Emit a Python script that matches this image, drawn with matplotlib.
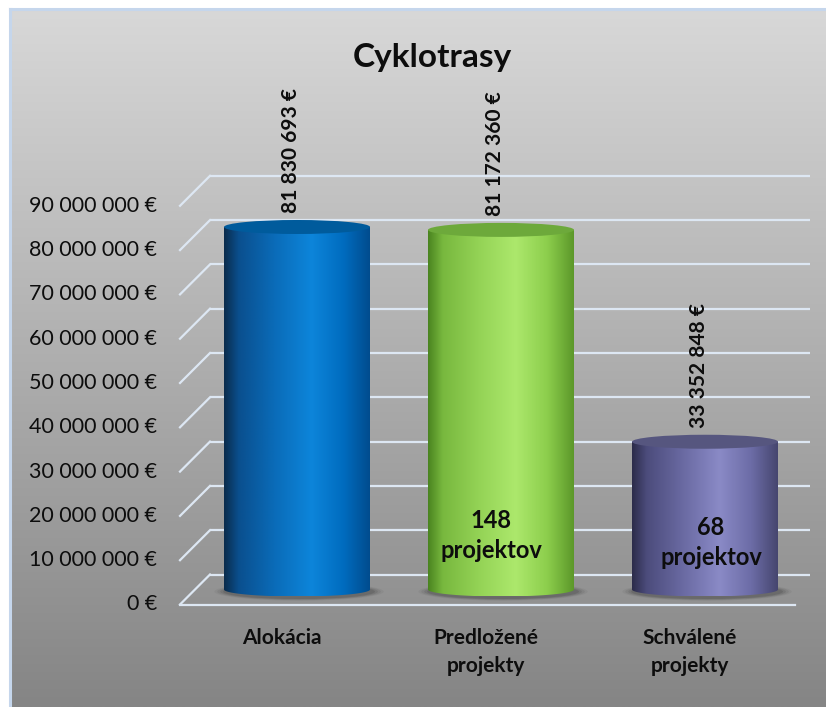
"""Cyklotrasy - 3D cylinder bar chart (static PNG)."""

import matplotlib

matplotlib.use("Agg")

import matplotlib.pyplot as plt
import numpy as np
from matplotlib.colors import to_rgb
from matplotlib.patches import Ellipse, Polygon

plt.rcParams["font.family"] = ["Lato", "DejaVu Sans"]

# --- data ---
categories = ["Alokácia", "Predložené\nprojekty", "Schválené\nprojekty"]
values = [81830693, 81172360, 33352848]
project_counts = [None, 148, 68]
y_ticks = list(range(0, 90000001, 10000000))

# --- style ---
body_stops = [
    [(0.0, "#0b2c4c"), (0.1, "#0a4f8e"), (0.35, "#0a6cb9"), (0.6, "#0d85da"),
     (0.82, "#006cbf"), (1.0, "#004c8e")],
    [(0.0, "#4a8420"), (0.1, "#78b83e"), (0.35, "#94d356"), (0.6, "#ace86c"),
     (0.82, "#8cce4c"), (1.0, "#5c982a")],
    [(0.0, "#2c2c4a"), (0.1, "#4c4c7c"), (0.35, "#6a6aa2"), (0.6, "#8a8ac6"),
     (0.82, "#6c6ca6"), (1.0, "#46466f")],
]
cap_colors = ["#005b9c", "#6da93b", "#56567f"]
# offsets (px) of the "n projektov" labels from the bar centre
count_offsets = [(0, 0), (-10, 0), (6, -7)]
grid_color = "#dde7f3"
text_color = "#0d0d0d"

W, H = 826, 707
PX_PER_CAT = 204.0          # horizontal pixels per category
PX_PER_VAL = 44.3 / 1e7     # vertical pixels per euro
X0_PX, Y0_PX = 297.0, 589.5  # pixel position of category 0 / value 0

BAR_W = 146 / PX_PER_CAT
CAP_H = 14 / PX_PER_VAL
DEPTH_X = 15 / PX_PER_CAT   # half depth of the floor, horizontal
DEPTH_Y = 15 / PX_PER_VAL   # half depth of the floor, vertical
WALL_X0 = (180 - X0_PX) / PX_PER_CAT
WALL_X1 = (810 - X0_PX) / PX_PER_CAT
FLOOR_X1 = (795 - X0_PX) / PX_PER_CAT


def gradient(stops, n=256):
    pos = np.array([s[0] for s in stops])
    cols = np.array([to_rgb(s[1]) for s in stops])
    t = np.linspace(0, 1, n)
    row = np.stack([np.interp(t, pos, cols[:, i]) for i in range(3)], axis=-1)
    return row[np.newaxis, :, :]


def draw_cylinder(ax, cx, value, stops, cap_color):
    x0, x1 = cx - BAR_W / 2, cx + BAR_W / 2
    # soft shadow under the cylinder
    for k, a in enumerate([0.06, 0.09, 0.12, 0.16]):
        grow = 1.16 - k * 0.04
        ax.add_patch(Ellipse((cx + 0.01, -0.15 * CAP_H), BAR_W * grow, CAP_H * (1.3 - k * 0.08),
                             fc="#2a2a2a", ec="none", alpha=a, zorder=2))
    t = np.linspace(np.pi, 2 * np.pi, 80)
    arc = list(zip(cx + BAR_W / 2 * np.cos(t), CAP_H / 2 * np.sin(t)))
    clip = Polygon([(x0, value)] + arc + [(x1, value)], closed=True,
                   transform=ax.transData, fc="none", ec="none")
    ax.add_patch(clip)
    im = ax.imshow(gradient(stops), extent=(x0, x1, -CAP_H / 2, value),
                   aspect="auto", interpolation="bilinear", zorder=3)
    im.set_clip_path(clip)
    ax.add_patch(Ellipse((cx, value), BAR_W, CAP_H, fc=cap_color, ec="none", zorder=4))


fig = plt.figure(figsize=(W / 100, H / 100), dpi=100)
fig.patch.set_facecolor("white")

# chart area background with vertical gradient
ax_bg = fig.add_axes([10 / W, 0, 1 - 10 / W, 1 - 9 / H])
bg = np.linspace(0, 1, 256)[:, np.newaxis]
top_rgb, bot_rgb = np.array(to_rgb("#d8d8d8")), np.array(to_rgb("#858585"))
ax_bg.imshow(top_rgb + bg[:, :, np.newaxis] * (bot_rgb - top_rgb), aspect="auto",
             extent=(0, 1, 0, 1), interpolation="bilinear")
ax_bg.set_xticks([])
ax_bg.set_yticks([])
for side, spine in ax_bg.spines.items():
    spine.set_visible(side in ("left", "top"))
    spine.set_color("#c5d6ec")
    spine.set_linewidth(2.2)

ax = fig.add_axes([0, 0, 1, 1])
ax.patch.set_alpha(0)
ax.axis("off")

# back wall gridlines + left edge diagonals
for v in y_ticks:
    ax.plot([WALL_X0 + 2 * DEPTH_X, WALL_X1], [v + DEPTH_Y, v + DEPTH_Y],
            color=grid_color, lw=1.6, zorder=1, solid_capstyle="butt")
    ax.plot([WALL_X0, WALL_X0 + 2 * DEPTH_X], [v - DEPTH_Y, v + DEPTH_Y],
            color=grid_color, lw=1.6, zorder=1)
    ax.text(WALL_X0 - 23 / PX_PER_CAT, v - DEPTH_Y, f"{v:,} €".replace(",", " "),
            ha="right", va="center", fontsize=15.5, color=text_color)
# front floor edge
ax.plot([WALL_X0, FLOOR_X1], [-DEPTH_Y, -DEPTH_Y], color=grid_color, lw=1.6, zorder=1)

for i, (cat, val, cnt) in enumerate(zip(categories, values, project_counts)):
    draw_cylinder(ax, i, val, body_stops[i], cap_colors[i])
    ax.annotate(f"{val:,} €".replace(",", " "), xy=(i, val + CAP_H / 2),
                xytext=(-4, 5), textcoords="offset points", rotation=90,
                ha="center", va="bottom", fontsize=15, fontweight="bold",
                color=text_color, zorder=6)
    if cnt is not None:
        dx, dy = count_offsets[i]
        ax.text(i + dx / PX_PER_CAT, 12.2e6 + dy / PX_PER_VAL, f"{cnt}\nprojektov",
                ha="center", va="center", fontsize=17, fontweight="bold",
                color=text_color, linespacing=1.35, zorder=6)
    ax.text(i - DEPTH_X, -DEPTH_Y - 24 / PX_PER_VAL, cat, ha="center", va="top",
            fontsize=15, fontweight="bold", color=text_color, linespacing=1.45)

ax.set_xlim(-X0_PX / PX_PER_CAT, (W - X0_PX) / PX_PER_CAT)
ax.set_ylim(-(H - Y0_PX) / PX_PER_VAL, Y0_PX / PX_PER_VAL)

fig.text(432 / W, 1 - 67 / H, "Cyklotrasy", ha="center", va="baseline",
         fontsize=24, fontweight="bold", color=text_color)

fig.savefig("out.png", dpi=100)
plt.close(fig)
